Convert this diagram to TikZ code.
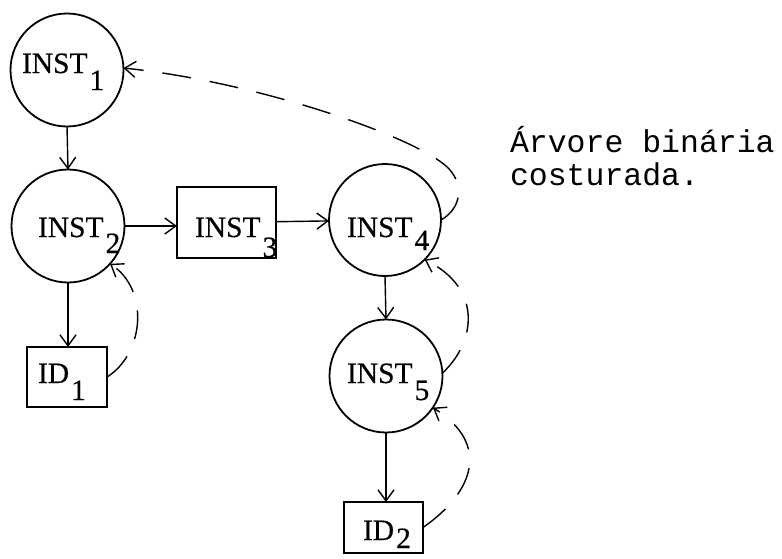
\documentclass[tikz,border=0pt]{standalone}
\usepackage{fontspec}
\setmainfont{Liberation Serif}
\newfontfamily\labelfont[FakeBold=0.4]{Liberation Serif}
\newfontfamily\typewriter{Liberation Mono}
\usetikzlibrary{arrows.meta,calc}
% typewriter-style subscript: same size digit, dropped below the baseline
\newcommand{\lowsub}[2]{\kern2pt\raisebox{-#1pt}{#2}}

\begin{document}
\begin{tikzpicture}[x=1pt,y=-1pt,
  every node/.style={inner sep=0pt, outer sep=0pt},
  circ/.style={draw, circle, line width=1.8pt, minimum size=113pt},
  boxnode/.style={draw, rectangle, line width=1.6pt},
  lbl/.style={anchor=base west, font=\labelfont\fontsize{29.5}{30}\selectfont},
  link/.style={line width=1.4pt, -{Straight Barb[length=11pt,width=16pt]}},
  thread/.style={link, dash pattern=on 29pt off 19pt},
  caption/.style={anchor=base west, font=\typewriter\fontsize{31.5}{33}\selectfont}]

\useasboundingbox (0,0) rectangle (782,558);

% tree nodes
\node[circ] (i1) at (67,70) {};
\node[circ] (i2) at (68,226) {};
\node[boxnode, minimum width=99pt, minimum height=71pt] (i3) at (226.5,222.5) {};
\node[circ, minimum size=112pt] (i4) at (385,220) {};
\node[circ] (i5) at (386,376) {};
\node[boxnode, minimum width=80pt, minimum height=60pt] (id1) at (67,377) {};
\node[boxnode, minimum width=79pt, minimum height=51pt] (id2) at (383.5,527.5) {};

% labels
\node[lbl] (t1) at (22,73) {INST\lowsub{17}{1}};
\node[lbl] (t2) at (38,237) {INST\lowsub{16}{2}};
\node[lbl] (t3) at (195,237) {INST\lowsub{20}{3}};
\node[lbl] (t4) at (347,237) {INST\lowsub{13}{4}};
\node[lbl] (t5) at (347,383) {INST\lowsub{17}{5}};
\node[lbl] (t6) at (38,383) {ID\lowsub{17}{1}};
\node[lbl] (t7) at (363,540) {ID\lowsub{8}{2}};

% caption
\node[caption] (c1) at (510,152) {Árvore binária};
\node[caption] (c2) at (510,185) {costurada.};

% tree edges
\draw[link] (i1.south) -- (i2.north);
\draw[link] (i2.east) -- (i2.east -| i3.west);
\draw[link] (i3) -- (i4);
\draw[link] (i2.south) -- (i2.south |- id1.north);
\draw[link] (i4.south) -- (i5.north);
\draw[link] (i5.south) -- (i5.south |- id2.north);

% threads
\draw[thread] (id1.east) .. controls (144,354) and (150,290) .. (i2.-42);
\draw[thread] (id2.east) .. controls (474,492) and (491,444) .. (i5.-34);
\draw[thread] (i5.3) .. controls (475,343) and (484,289) .. (i4.-45);
\draw[thread] (i4.east) .. controls (462,208) and (463,185) .. (450,170)
  .. controls (425,140) and (260,82) .. (i1.2);
\end{tikzpicture}
\end{document}
